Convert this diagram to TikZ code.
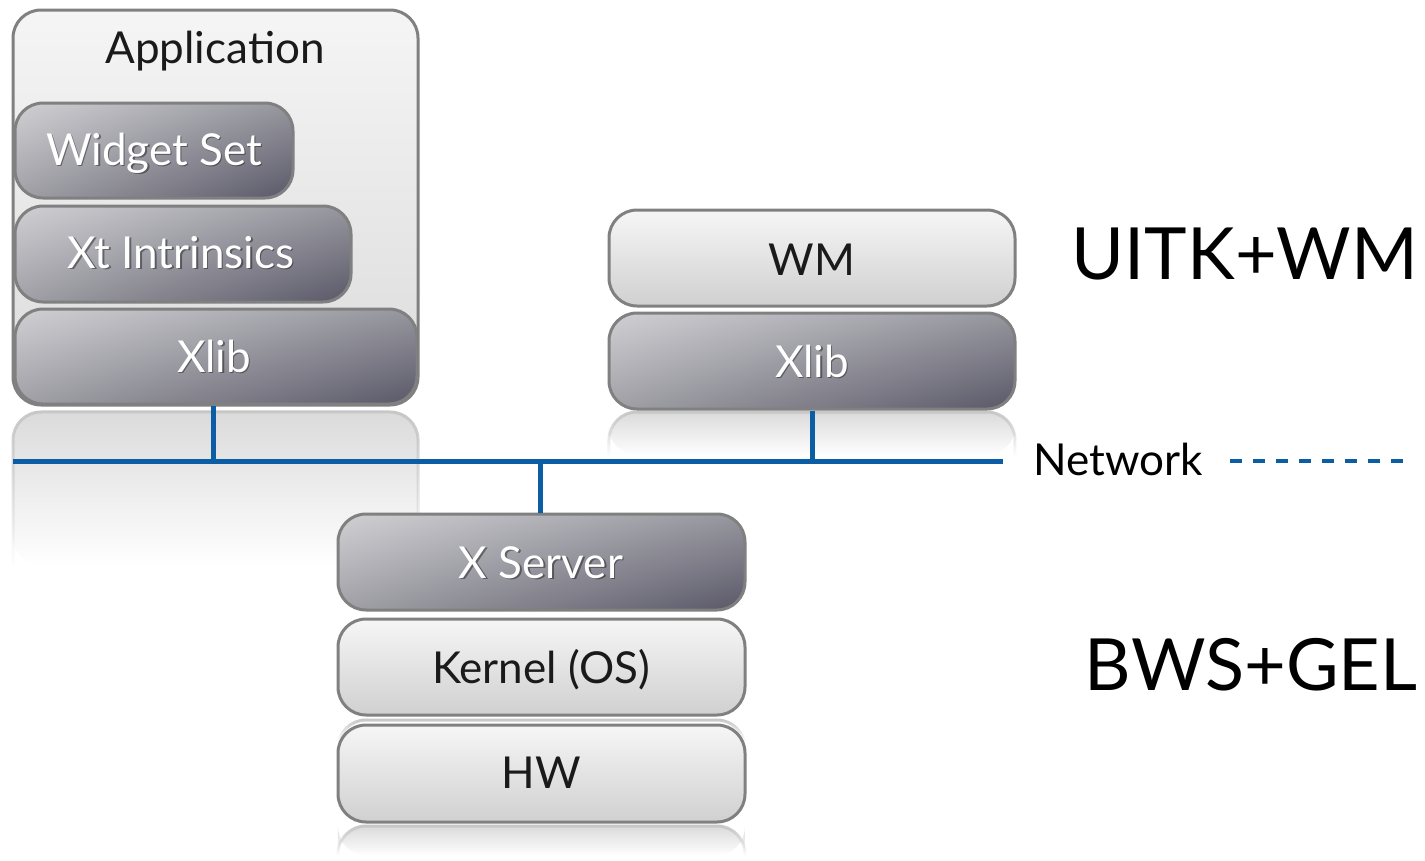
\documentclass[tikz,border=0pt]{standalone}
\usepackage{fontspec}
\setmainfont{Lato}
\usetikzlibrary{fadings,shadings}
\definecolor{netblue}{RGB}{12,94,164}
\definecolor{edgegray}{RGB}{128,128,128}
\definecolor{dUL}{RGB}{208,208,212}
\definecolor{dUR}{RGB}{150,150,158}
\definecolor{dLL}{RGB}{160,160,166}
\definecolor{dLR}{RGB}{90,88,104}
\definecolor{lTop}{RGB}{246,246,246}
\definecolor{lBot}{RGB}{208,208,208}
\definecolor{txtdark}{RGB}{26,26,26}
\tikzfading[name=fadedown, top color=transparent!0, bottom color=transparent!100]
\begin{document}
\begin{tikzpicture}[x=1pt,y=-1pt,
  box/.style={rectangle, rounded corners=28pt, draw=edgegray, line width=3pt, inner sep=0pt},
  darkbox/.style={box, upper left=dUL, upper right=dUR, lower left=dLL, lower right=dLR},
  lightbox/.style={box, top color=lTop, bottom color=lBot},
  btxt/.style={anchor=base, text=txtdark, font=\fontsize{44}{44}\selectfont, inner sep=0pt},
  wtxt/.style={anchor=base, text=white, font=\fontsize{44}{44}\selectfont, inner sep=0pt},
  stxt/.style={anchor=base, text=black, opacity=0.4, font=\fontsize{44}{44}\selectfont, inner sep=0pt},
  bigtxt/.style={anchor=base, text=black, font=\fontsize{72}{72}\selectfont, inner sep=0pt},
  refl/.style={fill=black!14, path fading=fadedown},
  reflb/.style={draw=black!22, line width=3pt, path fading=fadedown},
  net/.style={draw=netblue, line width=5pt},
]
\useasboundingbox (0,0) rectangle (1425,860);
\fill[white] (0,0) rectangle (1425,860);

% reflections
\fill[refl, rounded corners=28pt] (13,412) rectangle (418,565);
\draw[reflb, rounded corners=28pt] (13,565) -- (13,412) -- (418,412) -- (418,565);
\fill[refl, rounded corners=28pt] (609,412) rectangle (1015,455);
\draw[reflb, rounded corners=28pt] (609,455) -- (609,412) -- (1015,412) -- (1015,455);
\fill[refl, rounded corners=28pt] (338,826) rectangle (745,855);
\draw[reflb, rounded corners=28pt] (338,855) -- (338,826) -- (745,826) -- (745,855);
\draw[reflb, rounded corners=28pt] (338,740) -- (338,720) -- (745,720) -- (745,740);

% application stack
\node[box, top color=black!4, bottom color=black!14, minimum width=405pt, minimum height=395pt] (app) at (215.5,207.5) {};
\node[btxt] (tApp) at (215,63) {Application};
\node[darkbox, minimum width=278pt, minimum height=95pt] (widget) at (154,150.5) {};
\node[darkbox, minimum width=336pt, minimum height=96pt] (xt) at (183,254) {};
\node[darkbox, minimum width=402pt, minimum height=95pt] (xlibA) at (216,356.5) {};
\node[stxt] (sWidget) at (155.5,166.5) {Widget Set};
\node[wtxt] (tWidget) at (154,165) {Widget Set};
\node[stxt] (sXt) at (182.5,269.5) {Xt Intrinsics};
\node[wtxt] (tXt) at (181,268) {Xt Intrinsics};
\node[stxt] (sXlibA) at (215.5,373.5) {Xlib};
\node[wtxt] (tXlibA) at (214,372) {Xlib};

% WM stack
\node[lightbox, minimum width=406pt, minimum height=96pt] (wm) at (812,258) {};
\node[btxt] (tWM) at (812,275) {WM};
\node[darkbox, minimum width=406pt, minimum height=96pt] (xlibW) at (812,361) {};
\node[stxt] (sXlibW) at (813.5,378.5) {Xlib};
\node[wtxt] (tXlibW) at (812,377) {Xlib};

% server stack
\node[darkbox, minimum width=407pt, minimum height=96pt] (xs) at (541.5,562) {};
\node[stxt] (sXs) at (542.5,579.5) {X Server};
\node[wtxt] (tXs) at (541,578) {X Server};
\node[lightbox, minimum width=407pt, minimum height=96pt] (kernel) at (541.5,667) {};
\node[btxt] (tKernel) at (541,683) {Kernel (OS)};
\node[lightbox, minimum width=407pt, minimum height=97pt] (hw) at (541.5,773.5) {};
\node[btxt] (tHW) at (541,788) {HW};

% network
\coordinate (netL) at (13,461);
\coordinate (netR) at (1003,461);
\node[btxt, text=black] (tNet) at (1118,475) {Network};
\coordinate (dashEnd) at (1412,461);
\draw[net] (netL) -- (netR);
\draw[net] (xlibA.south -| 213,0) -- (213,461);
\draw[net] (xlibW.south) -- (xlibW.south |- netL);
\draw[net] (xs.north -| 540,0) -- (540,461);
\draw[draw=netblue, line width=4pt, dash pattern=on 12pt off 11pt] (1230,461) -- (dashEnd);

% layer labels
\node[bigtxt] (tUITK) at (1245,279) {UITK+WM};
\node[bigtxt] (tBWS) at (1251,690) {BWS+GEL};
\end{tikzpicture}
\end{document}
